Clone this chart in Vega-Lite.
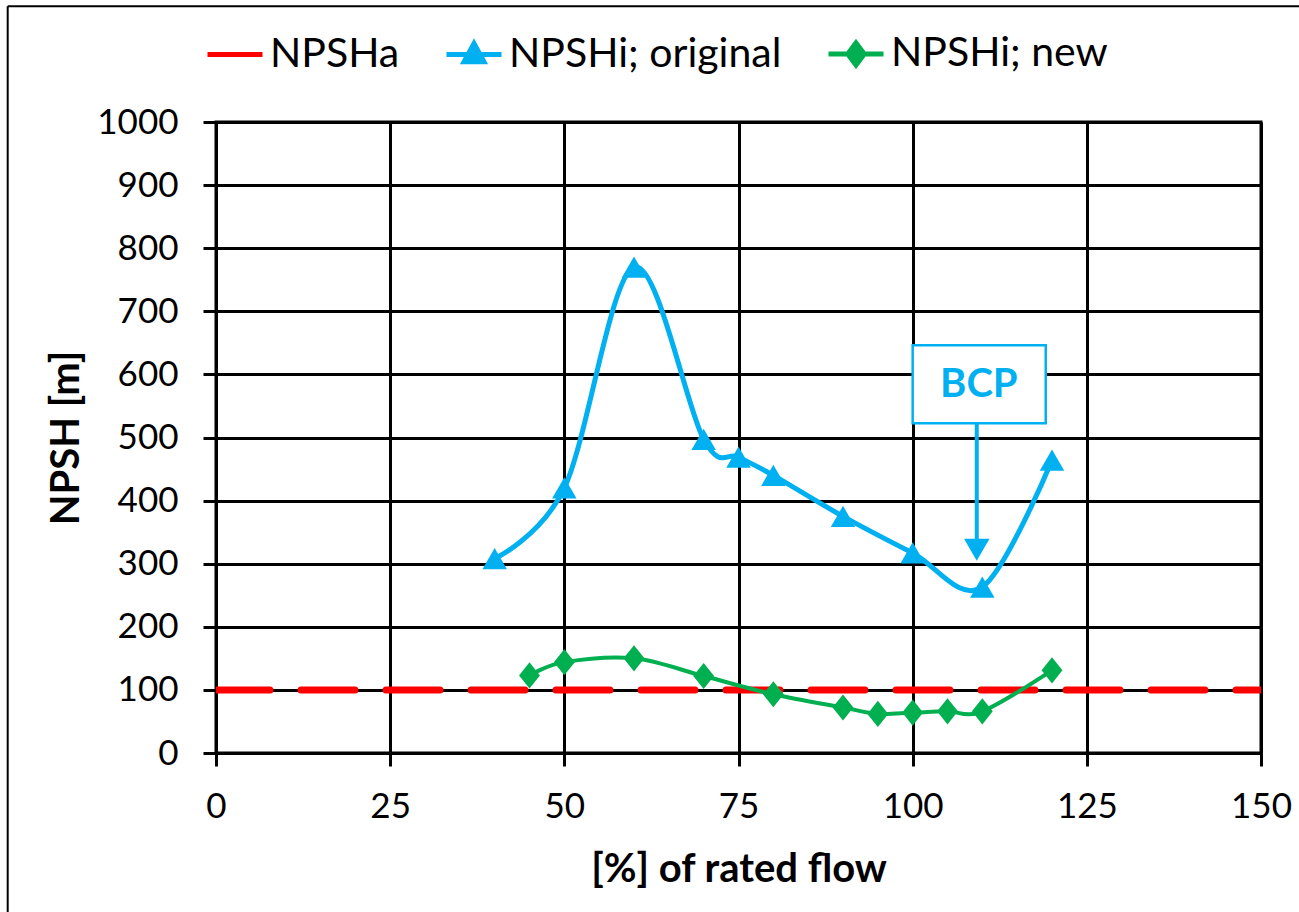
{
  "$schema": "https://vega.github.io/schema/vega-lite/v6.json",
  "autosize": {"type": "none"},
  "padding": {"left": 216, "top": 122, "right": 38, "bottom": 159},
  "width": 1045,
  "height": 631,
  "background": "white",
  "config": {
    "font": "Lato",
    "view": {"stroke": "black", "strokeWidth": 3},
    "axis": {
      "gridColor": "black", "gridWidth": 3, "gridOpacity": 1,
      "domainColor": "black", "domainWidth": 3,
      "tickColor": "black", "tickWidth": 3, "tickSize": 13,
      "labelFont": "Lato", "labelFontSize": 35, "labelColor": "black", "labelFlush": false,
      "titleFont": "Lato", "titleFontSize": 40, "titleFontWeight": "bold", "titleColor": "black"
    }
  },
  "datasets": {
    "series": [
      {"flow": 0, "npsh": 100, "series": "NPSHa"},
      {"flow": 150, "npsh": 100, "series": "NPSHa"},
      {"flow": 40, "npsh": 308, "series": "NPSHi; original"},
      {"flow": 50, "npsh": 420, "series": "NPSHi; original"},
      {"flow": 60, "npsh": 770, "series": "NPSHi; original"},
      {"flow": 70, "npsh": 497, "series": "NPSHi; original"},
      {"flow": 75, "npsh": 469, "series": "NPSHi; original"},
      {"flow": 80, "npsh": 440, "series": "NPSHi; original"},
      {"flow": 90, "npsh": 375, "series": "NPSHi; original"},
      {"flow": 100, "npsh": 317, "series": "NPSHi; original"},
      {"flow": 110, "npsh": 263, "series": "NPSHi; original"},
      {"flow": 120, "npsh": 464, "series": "NPSHi; original"},
      {"flow": 45, "npsh": 123, "series": "NPSHi; new"},
      {"flow": 50, "npsh": 144, "series": "NPSHi; new"},
      {"flow": 60, "npsh": 150, "series": "NPSHi; new"},
      {"flow": 70, "npsh": 122, "series": "NPSHi; new"},
      {"flow": 80, "npsh": 93, "series": "NPSHi; new"},
      {"flow": 90, "npsh": 72, "series": "NPSHi; new"},
      {"flow": 95, "npsh": 62, "series": "NPSHi; new"},
      {"flow": 100, "npsh": 64, "series": "NPSHi; new"},
      {"flow": 105, "npsh": 66, "series": "NPSHi; new"},
      {"flow": 110, "npsh": 66, "series": "NPSHi; new"},
      {"flow": 120, "npsh": 131, "series": "NPSHi; new"}
    ],
    "legendrows": [
      {"series": "NPSHa", "flow": null, "npsh": null},
      {"series": "NPSHi; original", "flow": null, "npsh": null},
      {"series": "NPSHi; new", "flow": null, "npsh": null}
    ]
  },
  "layer": [
    {
      "data": {"name": "series"},
      "transform": [{"filter": "datum.series === 'NPSHa'"}],
      "mark": {"type": "line", "color": "#FF0000", "strokeWidth": 7, "strokeDash": [54, 31], "strokeCap": "round", "clip": true},
      "encoding": {
        "x": {
          "field": "flow", "type": "quantitative",
          "scale": {"domain": [0, 150], "nice": false, "zero": false},
          "axis": {"values": [0, 25, 50, 75, 100, 125, 150], "title": "[%] of rated flow", "labelPadding": 23, "titlePadding": 25}
        },
        "y": {
          "field": "npsh", "type": "quantitative",
          "scale": {"domain": [0, 1000], "nice": false},
          "axis": {"values": [0, 100, 200, 300, 400, 500, 600, 700, 800, 900, 1000], "format": "d", "title": "NPSH [m]", "labelPadding": 25, "titlePadding": 10}
        }
      }
    },
    {
      "data": {"name": "series"},
      "transform": [{"filter": "datum.series === 'NPSHi; original'"}],
      "mark": {"type": "line", "color": "#00B0F0", "strokeWidth": 5, "interpolate": "cardinal"},
      "encoding": {
        "x": {"field": "flow", "type": "quantitative"},
        "y": {"field": "npsh", "type": "quantitative"}
      }
    },
    {
      "data": {"name": "series"},
      "transform": [{"filter": "datum.series === 'NPSHi; original'"}],
      "mark": {"type": "point", "shape": "triangle-up", "filled": true, "opacity": 1, "color": "#00B0F0", "size": 600},
      "encoding": {
        "x": {"field": "flow", "type": "quantitative"},
        "y": {"field": "npsh", "type": "quantitative"}
      }
    },
    {
      "data": {"name": "series"},
      "transform": [{"filter": "datum.series === 'NPSHi; new'"}],
      "mark": {"type": "line", "color": "#00B050", "strokeWidth": 4, "interpolate": "cardinal"},
      "encoding": {
        "x": {"field": "flow", "type": "quantitative"},
        "y": {"field": "npsh", "type": "quantitative"}
      }
    },
    {
      "data": {"name": "series"},
      "transform": [{"filter": "datum.series === 'NPSHi; new'"}],
      "mark": {"type": "point", "shape": "M0,-1L0.8,0L0,1L-0.8,0Z", "filled": true, "opacity": 1, "color": "#00B050", "size": 680},
      "encoding": {
        "x": {"field": "flow", "type": "quantitative"},
        "y": {"field": "npsh", "type": "quantitative"}
      }
    },
    {
      "data": {"values": [{"label": "BCP"}]},
      "mark": {"type": "rect", "fill": "white", "stroke": "#00B0F0", "strokeWidth": 2.5},
      "encoding": {
        "x": {"datum": 100},
        "x2": {"datum": 119.1},
        "y": {"datum": 522.5},
        "y2": {"datum": 646}
      }
    },
    {
      "data": {"values": [{"label": "BCP"}]},
      "mark": {"type": "text", "font": "Lato", "fontSize": 40, "fontWeight": "bold", "color": "#00B0F0", "baseline": "middle", "align": "center"},
      "encoding": {
        "x": {"datum": 109.5},
        "y": {"datum": 583},
        "text": {"field": "label", "type": "nominal"}
      }
    },
    {
      "data": {"values": [{"label": "BCP"}]},
      "mark": {"type": "rule", "color": "#00B0F0", "strokeWidth": 4},
      "encoding": {
        "x": {"datum": 109.2},
        "y": {"datum": 522.5},
        "y2": {"datum": 338}
      }
    },
    {
      "data": {"values": [{"label": "BCP"}]},
      "mark": {"type": "point", "shape": "triangle-down", "filled": true, "opacity": 1, "color": "#00B0F0", "size": 650},
      "encoding": {
        "x": {"datum": 109.2},
        "y": {"datum": 322}
      }
    },
    {
      "data": {"values": [{"frame": "top"}]},
      "mark": {"type": "rule", "color": "black", "strokeWidth": 2, "clip": false},
      "encoding": {
        "x": {"datum": -29.9},
        "x2": {"datum": 156},
        "y": {"datum": 1183.5}
      }
    },
    {
      "data": {"values": [{"frame": "left"}]},
      "mark": {"type": "rule", "color": "black", "strokeWidth": 2, "clip": false},
      "encoding": {
        "x": {"datum": -29.9},
        "y": {"datum": 1183.5},
        "y2": {"datum": -260}
      }
    },
    {
      "data": {"name": "legendrows"},
      "mark": {"type": "point", "filled": true, "opacity": 1, "strokeWidth": 5},
      "encoding": {
        "x": {"field": "flow", "type": "quantitative"},
        "y": {"field": "npsh", "type": "quantitative"},
        "fill": {
          "field": "series", "type": "nominal",
          "scale": {"domain": ["NPSHa", "NPSHi; original", "NPSHi; new"], "range": ["#FF0000", "#00B0F0", "#00B050"]},
          "legend": {
            "title": null, "orient": "none", "direction": "horizontal",
            "legendX": -11, "legendY": -98,
            "labelFont": "Lato", "labelFontSize": 41, "labelColor": "black", "labelLimit": 0,
            "symbolSize": 3025, "symbolStrokeWidth": 5, "labelOffset": 5, "columnPadding": 36, "padding": 0
          }
        },
        "stroke": {
          "field": "series", "type": "nominal",
          "scale": {"domain": ["NPSHa", "NPSHi; original", "NPSHi; new"], "range": ["#FF0000", "#00B0F0", "#00B050"]},
          "legend": {
            "title": null, "orient": "none", "direction": "horizontal",
            "legendX": -11, "legendY": -98,
            "labelFont": "Lato", "labelFontSize": 41, "labelColor": "black", "labelLimit": 0,
            "symbolSize": 3025, "symbolStrokeWidth": 5, "labelOffset": 5, "columnPadding": 36, "padding": 0
          }
        },
        "shape": {
          "field": "series", "type": "nominal",
          "scale": {"domain": ["NPSHa", "NPSHi; original", "NPSHi; new"], "range": ["M-1,0H1", "M-1,0H1M0,-0.4L0.36,0.26L-0.36,0.26Z", "M-1,0H1M0,-0.4L0.3,0L0,0.4L-0.3,0Z"]},
          "legend": {
            "title": null, "orient": "none", "direction": "horizontal",
            "legendX": -11, "legendY": -98,
            "labelFont": "Lato", "labelFontSize": 41, "labelColor": "black", "labelLimit": 0,
            "symbolSize": 3025, "symbolStrokeWidth": 5, "labelOffset": 5, "columnPadding": 36, "padding": 0
          }
        }
      }
    }
  ]
}
